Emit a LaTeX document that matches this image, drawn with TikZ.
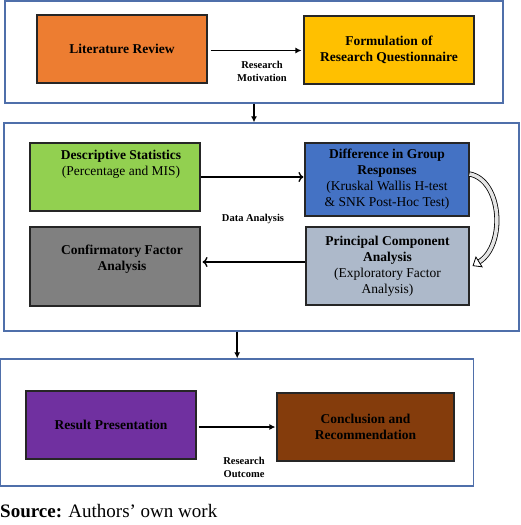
\documentclass[tikz,border=0pt]{standalone}
\usepackage{fontspec}
\setmainfont{Liberation Serif}
\usetikzlibrary{arrows.meta}
\definecolor{frameblue}{HTML}{4F6FAA}
\definecolor{litorange}{HTML}{ED7D31}
\definecolor{formgold}{HTML}{FFC000}
\definecolor{descgreen}{HTML}{92D050}
\definecolor{diffblue}{HTML}{4472C4}
\definecolor{cfagray}{HTML}{808080}
\definecolor{pcagray}{HTML}{ADB9CA}
\definecolor{respurple}{HTML}{7030A0}
\definecolor{conbrown}{HTML}{843C0C}

\begin{document}
\begin{tikzpicture}[x=1pt, y=-1pt,
    frame/.style={draw=frameblue, line width=1.3pt, inner sep=0pt},
    box/.style={draw=black!85, line width=1.1pt, align=center, inner sep=2pt,
                font=\fontsize{13.5}{16}\selectfont},
    boxtext/.style={align=center, inner sep=0pt, font=\fontsize{13.5}{16}\selectfont},
    tag/.style={align=center, inner sep=0pt, font=\bfseries\fontsize{10.5}{13}\selectfont},
    flow/.style={line width=1.6pt, -{Latex[length=6pt,width=6pt]}},
    openflow/.style={line width=1.3pt, -{To[length=5pt,width=10pt]}},
    bendarrow/.style={line width=0.8pt, double=black!10, double distance=3.5pt,
                      -{Triangle[open,fill=white,length=8pt,width=13pt]}}]
\useasboundingbox (0,0) rectangle (520,525);
% frames
\node[frame, minimum width=498pt, minimum height=102pt] (top) at (254,52) {};
\node[frame, minimum width=515pt, minimum height=208pt] (mid) at (261.5,227) {};
\node[frame, minimum width=473pt, minimum height=127pt] (bot) at (237.2,422.5) {};
% boxes
\node[box, fill=litorange, minimum width=170pt, minimum height=68pt] (lit) at (122,49) {\textbf{Literature Review}};
\node[box, fill=formgold, minimum width=170pt, minimum height=68pt] (form) at (389,50) {\textbf{Formulation of}\\\textbf{Research Questionnaire}};
\node[box, fill=descgreen, minimum width=170pt, minimum height=68pt] (desc) at (115,177) {};
\node[boxtext] (desctext) at (121,164) {\textbf{Descriptive Statistics}\\(Percentage and MIS)};
\node[box, fill=diffblue, minimum width=164pt, minimum height=73pt] (diff) at (387,179.5) {\textbf{Difference in Group}\\\textbf{Responses}\\(Kruskal Wallis H-test\\\& SNK Post-Hoc Test)};
\node[box, fill=cfagray, minimum width=170pt, minimum height=79pt] (cfa) at (115,266.5) {};
\node[boxtext] (cfatext) at (122,259) {\textbf{Confirmatory Factor}\\\textbf{Analysis}};
\node[box, fill=pcagray, minimum width=163pt, minimum height=78pt] (pca) at (387.5,266) {\textbf{Principal Component}\\\textbf{Analysis}\\(Exploratory Factor\\Analysis)};
\node[box, fill=respurple, minimum width=170pt, minimum height=68pt] (res) at (111,425) {\textbf{Result Presentation}};
\node[box, fill=conbrown, minimum width=177pt, minimum height=68pt] (con) at (365.5,427) {\textbf{Conclusion and}\\\textbf{Recommendation}};
% labels
\node[tag] (motiv) at (262,71.5) {Research\\Motivation};
\node[tag] (data) at (253,219) {Data Analysis};
\node[tag] (outc) at (244,467.5) {Research\\Outcome};
\node[anchor=west, inner sep=0pt, font=\fontsize{19}{22}\selectfont] (src) at (0,511) {\textbf{Source:} Authors’ own work};
% connectors
\draw[flow] ([xshift=3pt, yshift=-1.5pt]lit.east) -- ([xshift=-2pt, yshift=-1.5pt]lit.east -| form.west);
\draw[openflow] (desc.east) -- ([xshift=-1pt]desc.east -| diff.west);
\draw[openflow] ([yshift=4pt]pca.west) -- ([xshift=2pt, yshift=4pt]pca.west -| cfa.east);
\draw[flow] ([xshift=2pt]con.west -| res.east) -- ([xshift=-1pt]con.west);
\draw[bendarrow] ([yshift=5.5pt]diff.east) .. controls (502,180) and (506,245) .. ([xshift=3pt]pca.east);
\draw[flow] (top.south) -- (top.south |- mid.north);
\draw[flow] (mid.south -| bot.north) -- (bot.north);
\end{tikzpicture}
\end{document}
